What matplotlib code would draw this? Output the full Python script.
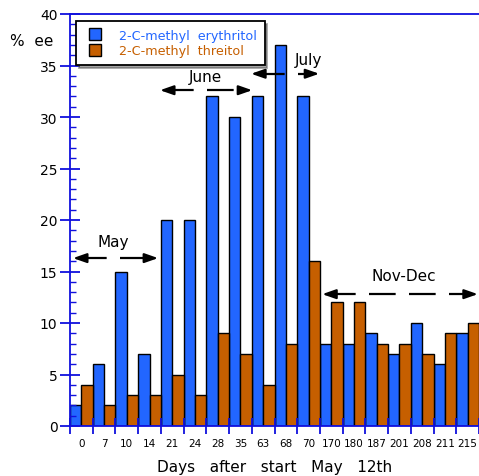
import numpy as np
import matplotlib
matplotlib.use('Agg')
from matplotlib import pyplot as plt

days = ['0', '7', '10', '14', '21', '24', '28', '35', '63', '68', '70',
        '170', '180', '187', '201', '208', '211', '215']
erythritol = [2, 6, 15, 7, 20, 20, 32, 30, 32, 37, 32, 8, 8, 9, 7, 10, 6, 9]
threitol = [4, 2, 3, 3, 5, 3, 9, 7, 4, 8, 16, 12, 12, 8, 8, 7, 9, 10]

BLUE = '#2266ff'
ORANGE = '#c65f00'
AXC = '#1010dd'

fig = plt.figure(figsize=(4.79, 4.77), dpi=100)
ax = fig.add_axes([70/479, 1 - 427/477, 409/479, 412/477])

x = np.arange(len(days))
ax.bar(x - 0.25, erythritol, width=0.5, color=BLUE, edgecolor='black', linewidth=1)
ax.bar(x + 0.25, threitol, width=0.5, color=ORANGE, edgecolor='black', linewidth=1)

ax.set_xlim(-0.5, len(days) - 0.5)
ax.set_ylim(0, 40)

for s in ['left', 'top', 'bottom']:
    ax.spines[s].set_color(AXC)
    ax.spines[s].set_linewidth(1.3)
ax.spines['right'].set_visible(False)

ax.set_yticks(np.arange(0, 41, 5))
ax.set_yticks(np.arange(0, 41, 1), minor=True)
ax.tick_params(axis='y', which='major', direction='inout', length=14, width=1.3,
               color=AXC, labelsize=10, pad=2)
ax.tick_params(axis='y', which='minor', direction='in', length=4, width=1, color=AXC)

ax.set_xticks(np.arange(-0.5, len(days), 1))
ax.set_xticklabels([])
ax.set_xticks(x, minor=True)
ax.set_xticklabels(days, minor=True)
ax.tick_params(axis='x', which='major', direction='inout', length=12, width=1.3, color=AXC)
ax.tick_params(axis='x', which='minor', length=0, labelsize=7.5, pad=9)

fig.text(275/479, 1 - 468/477, 'Days   after   start   May   12th', fontsize=11,
         ha='center', va='center')
fig.text(10/479, 1 - 42/477, '%  ee', fontsize=11, va='center')

# dashed arrows with month labels
periods = [
    ('May', -0.37, 3.38, 16.3, 1.39, 17.96),
    ('June', 3.46, 7.52, 32.6, 5.45, 33.9),
    ('July', 7.47, 10.47, 34.2, 9.98, 35.6),
    ('Nov-Dec', 10.6, 17.45, 12.8, 14.2, 14.66),
]
for name, x0, x1, yy, tx, ty in periods:
    ax.plot([x0 + 0.3, x1 - 0.3], [yy, yy], color='black', lw=1.6,
            dashes=(12, 6), solid_capstyle='butt', dash_capstyle='butt')
    for a, b in [(x0 + 0.6, x0), (x1 - 0.6, x1)]:
        ax.annotate('', xy=(b, yy), xytext=(a, yy),
                    arrowprops=dict(arrowstyle='-|>,head_length=0.8,head_width=0.28',
                                    color='black', lw=1.6, shrinkA=0, shrinkB=0))
    ax.text(tx, ty, name, ha='center', va='center', fontsize=11)

h1 = plt.Line2D([], [], marker='s', ls='', markersize=9, markerfacecolor=BLUE,
                markeredgecolor='black')
h2 = plt.Line2D([], [], marker='s', ls='', markersize=9, markerfacecolor=ORANGE,
                markeredgecolor='black')
leg = ax.legend([h1, h2], ['2-C-methyl  erythritol', '2-C-methyl  threitol'],
                loc='upper left', bbox_to_anchor=(0.014, 0.983), borderaxespad=0,
                fancybox=False, shadow=True, edgecolor='black', fontsize=9.2,
                handletextpad=1.0, labelspacing=0.2, borderpad=0.6,
                handlelength=1.8)
leg.get_frame().set_linewidth(1.3)
leg.get_texts()[0].set_color(BLUE)
leg.get_texts()[1].set_color(ORANGE)

fig.savefig('out.png', dpi=100)
